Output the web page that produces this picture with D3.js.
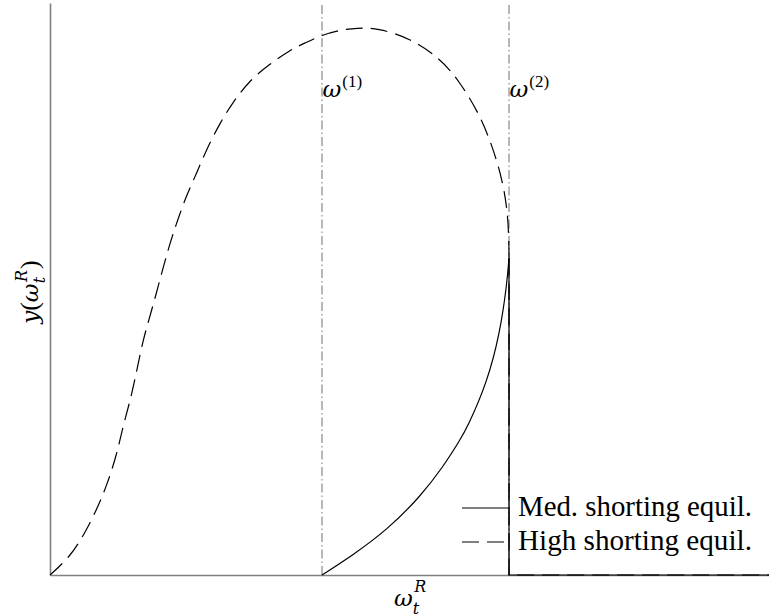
<!DOCTYPE html>
<html><head><meta charset="utf-8">
<script src="https://cdn.jsdelivr.net/npm/d3@7"></script>
<style>body{margin:0;background:#fff}</style>
</head><body>
<svg id="chart" width="769" height="615"></svg>
<script>
// Data (normalised units: x 0..1 across the axis, y 0..1 up the axis)
const highX = [0, 0.0278, 0.0487, 0.0653, 0.0792, 0.0931, 0.1015, 0.1112, 0.1206, 0.1294, 0.1391, 0.1484, 0.1572, 0.1669, 0.1780, 0.1901, 0.2040, 0.2179, 0.2364, 0.2545, 0.2782, 0.3059, 0.3338, 0.3547, 0.3783, 0.4033, 0.4270, 0.4548, 0.5007, 0.5424, 0.5702, 0.5980, 0.6161, 0.6300, 0.6370, 0.6384, 0.6384];
const highY = [0, 0.0315, 0.0734, 0.1154, 0.1573, 0.2115, 0.2605, 0.3024, 0.3566, 0.4108, 0.4528, 0.4948, 0.5367, 0.5804, 0.6224, 0.6643, 0.7028, 0.7448, 0.7902, 0.8269, 0.8654, 0.8934, 0.9178, 0.9301, 0.9441, 0.9528, 0.9563, 0.9563, 0.9388, 0.9038, 0.8619, 0.8042, 0.7465, 0.6871, 0.6294, 0.5717, 0.5538];
const medX = [0.3783, 0.4214, 0.4687, 0.5146, 0.5466, 0.5702, 0.5800, 0.6078, 0.6259, 0.6356, 0.6384];
const medY = [0, 0.0350, 0.0787, 0.1364, 0.1888, 0.2360, 0.2570, 0.3357, 0.4231, 0.5105, 0.5538];
const tailX = [0.6384, 0.6384, 1.0];
const highTailY = [0.5538, 0, 0];
const medTailY = [0.5538, 0, 0];
const thresholds = [0.3783, 0.6384];
const thresholdLabels = ["(1)", "(2)"];
const legendLabels = ["Med. shorting equil.", "High shorting equil."];

const svg = d3.select("#chart");
const x = d3.scaleLinear().domain([0, 1]).range([50, 769]);
const y = d3.scaleLinear().domain([0, 1]).range([575, 3]);
const serif = "'Liberation Serif', 'DejaVu Serif', serif";
const mathFont = "'DejaVu Serif', 'Liberation Serif', serif";

// threshold lines
svg.selectAll("line.thr").data(thresholds).join("line")
  .attr("class", "thr")
  .attr("x1", d => x(d)).attr("x2", d => x(d))
  .attr("y1", y(0)).attr("y2", y(1))
  .attr("stroke", "#a0a0a0").attr("stroke-width", 1.5)
  .attr("stroke-dasharray", "9,3,1.5,3");

// axes (spines only)
const gx = svg.append("g").attr("transform", `translate(0,${y(0)})`)
  .call(d3.axisBottom(x).tickValues([]).tickSizeOuter(0));
const gy = svg.append("g").attr("transform", `translate(${x(0)},0)`)
  .call(d3.axisLeft(y).tickValues([]).tickSizeOuter(0));
[gx, gy].forEach(g => g.select(".domain").attr("stroke", "#808080").attr("stroke-width", 1.6));

const line = d3.line().x(d => x(d[0])).y(d => y(d[1]));
const smooth = d3.line().x(d => x(d[0])).y(d => y(d[1])).curve(d3.curveBasis);

// med (solid)
svg.append("path").datum(medX.map((v, i) => [v, medY[i]]))
  .attr("d", smooth).attr("fill", "none").attr("stroke", "#000").attr("stroke-width", 1.2);
svg.append("path").datum(tailX.map((v, i) => [v, medTailY[i]]))
  .attr("d", line).attr("fill", "none").attr("stroke", "#000").attr("stroke-width", 1.2);

// high (dashed)
svg.append("path").datum(highX.map((v, i) => [v, highY[i]]))
  .attr("d", smooth).attr("fill", "none").attr("stroke", "#000").attr("stroke-width", 1.2)
  .attr("stroke-dasharray", "17,8");
svg.append("path").datum(tailX.map((v, i) => [v, highTailY[i]]))
  .attr("d", line).attr("fill", "none").attr("stroke", "#000").attr("stroke-width", 1.2)
  .attr("stroke-dasharray", "17,8");

// threshold labels
thresholds.forEach((t, i) => {
  const tx = svg.append("text").attr("x", x(t) + 0.5).attr("y", 97)
    .attr("font-family", mathFont).attr("font-size", 23).attr("fill", "#000");
  tx.append("tspan").attr("font-style", "italic").text("ω");
  tx.append("tspan").attr("font-family", serif).attr("font-size", 17).attr("dy", -10).attr("dx", 1).text(thresholdLabels[i]);
});

// x label
const xl = svg.append("text").attr("x", 394).attr("y", 606)
  .attr("font-family", mathFont).attr("font-size", 23).attr("fill", "#000");
xl.append("tspan").attr("font-style", "italic").text("ω");
xl.append("tspan").attr("font-style", "italic").attr("font-size", 16).attr("dy", 8).attr("dx", 0).text("t");
xl.append("tspan").attr("font-style", "italic").attr("font-size", 16).attr("dy", -22).attr("dx", -5).text("R");

// y label
const yl = svg.append("text").attr("transform", "translate(38,292) rotate(-90)")
  .attr("text-anchor", "middle")
  .attr("font-family", mathFont).attr("font-size", 23).attr("fill", "#000");
yl.append("tspan").attr("font-style", "italic").text("y");
yl.append("tspan").attr("font-family", serif).attr("font-size", 26).text("(");
yl.append("tspan").attr("font-style", "italic").text("ω");
yl.append("tspan").attr("font-style", "italic").attr("font-size", 16).attr("dy", 7).text("t");
yl.append("tspan").attr("font-style", "italic").attr("font-size", 16).attr("dy", -18).attr("dx", -5).text("R");
yl.append("tspan").attr("font-family", serif).attr("font-size", 26).attr("dy", 11).attr("dx", 1).text(")");

// legend
const legY = [508, 542];
const dashes = [null, "17,8"];
legendLabels.forEach((lab, i) => {
  svg.append("line").attr("x1", 462).attr("x2", 510).attr("y1", legY[i]).attr("y2", legY[i])
    .attr("stroke", "#000").attr("stroke-width", 1.2).attr("stroke-dasharray", dashes[i]);
  const t = svg.append("text").attr("x", 518).attr("y", legY[i] + 8)
    .attr("font-family", serif).attr("font-size", 24).attr("fill", "#000").text(lab);
  const w = t.node().getComputedTextLength();
  t.attr("font-size", 24 * 234 / w);
});
</script>
</body></html>
